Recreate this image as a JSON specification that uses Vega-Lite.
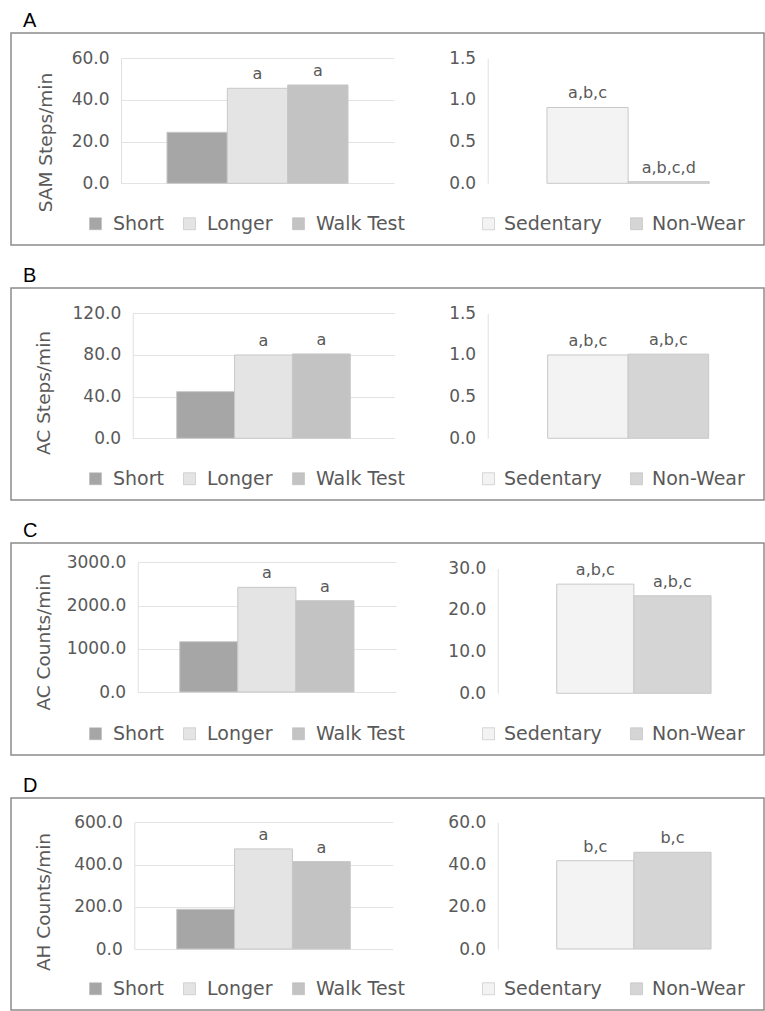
{
  "$schema": "https://vega.github.io/schema/vega-lite/v6.json",
  "padding": {"left": 10, "top": 10, "right": 0, "bottom": 0},
  "spacing": 19,
  "config": {
    "font": "DejaVu Sans",
    "view": {"stroke": "#8c8c8c", "strokeWidth": 1.5},
    "axis": {
      "labelFont": "DejaVu Sans", "labelFontSize": 17, "labelColor": "#595959", "labelPadding": 12,
      "titleFont": "DejaVu Sans", "titleFontSize": 18.5, "titleFontWeight": "normal", "titleColor": "#595959",
      "titleBaseline": "middle",
      "gridColor": "#e3e3e3", "gridWidth": 1, "domainColor": "#e0e0e0", "domainWidth": 1,
      "ticks": false, "tickSize": 0
    },
    "legend": {"labelFont": "DejaVu Sans", "labelFontSize": 19, "labelColor": "#595959", "symbolType": "square", "symbolSize": 144, "symbolStrokeWidth": 0.5, "symbolStrokeColor": "#b5b5b5"},
    "title": {"font": "Liberation Sans", "fontSize": 20, "fontWeight": "normal", "anchor": "start", "frame": "group", "dx": 12, "offset": 2, "baseline": "alphabetic", "color": "#000000"},
    "text": {"font": "DejaVu Sans"}
  },
  "datasets": {
    "bars": [
      {"panel": "A", "side": "L", "cat": "Short", "value": 24.5, "label": ""},
      {"panel": "A", "side": "L", "cat": "Longer", "value": 45.6, "label": "a"},
      {"panel": "A", "side": "L", "cat": "Walk Test", "value": 47.2, "label": "a"},
      {"panel": "A", "side": "R", "cat": "Sedentary", "value": 0.91, "label": "a,b,c"},
      {"panel": "A", "side": "R", "cat": "Non-Wear", "value": 0.02, "label": "a,b,c,d"},
      {"panel": "B", "side": "L", "cat": "Short", "value": 44.8, "label": ""},
      {"panel": "B", "side": "L", "cat": "Longer", "value": 80.0, "label": "a"},
      {"panel": "B", "side": "L", "cat": "Walk Test", "value": 81.0, "label": "a"},
      {"panel": "B", "side": "R", "cat": "Sedentary", "value": 1.0, "label": "a,b,c"},
      {"panel": "B", "side": "R", "cat": "Non-Wear", "value": 1.01, "label": "a,b,c"},
      {"panel": "C", "side": "L", "cat": "Short", "value": 1163, "label": ""},
      {"panel": "C", "side": "L", "cat": "Longer", "value": 2421, "label": "a"},
      {"panel": "C", "side": "L", "cat": "Walk Test", "value": 2112, "label": "a"},
      {"panel": "C", "side": "R", "cat": "Sedentary", "value": 26.2, "label": "a,b,c"},
      {"panel": "C", "side": "R", "cat": "Non-Wear", "value": 23.4, "label": "a,b,c"},
      {"panel": "D", "side": "L", "cat": "Short", "value": 188, "label": ""},
      {"panel": "D", "side": "L", "cat": "Longer", "value": 474, "label": "a"},
      {"panel": "D", "side": "L", "cat": "Walk Test", "value": 414, "label": "a"},
      {"panel": "D", "side": "R", "cat": "Sedentary", "value": 41.8, "label": "b,c"},
      {"panel": "D", "side": "R", "cat": "Non-Wear", "value": 45.8, "label": "b,c"}
    ]
  },
  "data": {"name": "bars"},
  "vconcat": [
    {
      "title": {"text": "A"},
      "width": 753, "height": 212,
      "resolve": {"scale": {"x": "independent", "y": "independent", "color": "independent"}},
      "layer": [
        {
          "transform": [{"filter": "datum.panel === 'A' && datum.side === 'L'"}],
          "encoding": {
            "x": {"field": "cat", "type": "nominal", "sort": ["Short", "Longer", "Walk Test"], "scale": {"range": [110, 383], "paddingInner": 0, "paddingOuter": 0.762}, "axis": null},
            "y": {"field": "value", "type": "quantitative", "scale": {"domain": [0, 60], "range": [150.3, 25.3], "nice": false}, "axis": {"orient": "left", "offset": -110, "values": [0, 20, 40, 60], "format": ".1f", "title": "SAM Steps/min", "titleX": -76, "titleY": 109}}
          },
          "layer": [
            {"mark": {"type": "bar", "stroke": "#c8c8c8", "strokeWidth": 1},
             "encoding": {"color": {"field": "cat", "type": "nominal", "scale": {"domain": ["Short", "Longer", "Walk Test"], "range": ["#a6a6a6", "#e4e4e4", "#c3c3c3"]}, "legend": {"orient": "none", "legendX": 75, "legendY": 181, "direction": "horizontal", "title": null, "labelOffset": 8, "columnPadding": 16}}}},
            {"mark": {"type": "text", "dy": -14, "baseline": "middle", "fontSize": 16, "color": "#595959"},
             "encoding": {"text": {"field": "label"}}}
          ]
        },
        {
          "transform": [{"filter": "datum.panel === 'A' && datum.side === 'R'"}],
          "encoding": {
            "x": {"field": "cat", "type": "nominal", "sort": ["Sedentary", "Non-Wear"], "scale": {"range": [476.7, 753], "paddingInner": 0, "paddingOuter": 0.702, "align": 0.52}, "axis": null},
            "y": {"field": "value", "type": "quantitative", "scale": {"domain": [0, 1.5], "range": [150.3, 25.3], "nice": false}, "axis": {"orient": "left", "offset": -476.7, "values": [0, 0.5, 1, 1.5], "format": ".1f", "title": null}}
          },
          "layer": [
            {"mark": {"type": "bar", "stroke": "#c8c8c8", "strokeWidth": 1},
             "encoding": {"color": {"field": "cat", "type": "nominal", "scale": {"domain": ["Sedentary", "Non-Wear"], "range": ["#f3f3f3", "#d5d5d5"]}, "legend": {"orient": "none", "legendX": 468, "legendY": 181, "direction": "horizontal", "title": null, "labelOffset": 6, "columnPadding": 25}}}},
            {"mark": {"type": "text", "dy": -14, "baseline": "middle", "fontSize": 16, "color": "#595959"},
             "encoding": {"text": {"field": "label"}}}
          ]
        }
      ]
    },
    {
      "title": {"text": "B"},
      "width": 753, "height": 212,
      "resolve": {"scale": {"x": "independent", "y": "independent", "color": "independent"}},
      "layer": [
        {
          "transform": [{"filter": "datum.panel === 'B' && datum.side === 'L'"}],
          "encoding": {
            "x": {"field": "cat", "type": "nominal", "sort": ["Short", "Longer", "Walk Test"], "scale": {"range": [121.7, 383.3], "paddingInner": 0, "paddingOuter": 0.76}, "axis": null},
            "y": {"field": "value", "type": "quantitative", "scale": {"domain": [0, 120], "range": [150.3, 25.3], "nice": false}, "axis": {"orient": "left", "offset": -121.7, "values": [0, 40, 80, 120], "format": ".1f", "title": "AC Steps/min", "titleX": -89.2, "titleY": 104.5}}
          },
          "layer": [
            {"mark": {"type": "bar", "stroke": "#c8c8c8", "strokeWidth": 1},
             "encoding": {"color": {"field": "cat", "type": "nominal", "scale": {"domain": ["Short", "Longer", "Walk Test"], "range": ["#a6a6a6", "#e4e4e4", "#c3c3c3"]}, "legend": {"orient": "none", "legendX": 75, "legendY": 181, "direction": "horizontal", "title": null, "labelOffset": 8, "columnPadding": 16}}}},
            {"mark": {"type": "text", "dy": -14, "baseline": "middle", "fontSize": 16, "color": "#595959"},
             "encoding": {"text": {"field": "label"}}}
          ]
        },
        {
          "transform": [{"filter": "datum.panel === 'B' && datum.side === 'R'"}],
          "encoding": {
            "x": {"field": "cat", "type": "nominal", "sort": ["Sedentary", "Non-Wear"], "scale": {"range": [476.7, 753], "paddingInner": 0, "paddingOuter": 0.716, "align": 0.52}, "axis": null},
            "y": {"field": "value", "type": "quantitative", "scale": {"domain": [0, 1.5], "range": [150.3, 25.3], "nice": false}, "axis": {"orient": "left", "offset": -476.7, "values": [0, 0.5, 1, 1.5], "format": ".1f", "title": null}}
          },
          "layer": [
            {"mark": {"type": "bar", "stroke": "#c8c8c8", "strokeWidth": 1},
             "encoding": {"color": {"field": "cat", "type": "nominal", "scale": {"domain": ["Sedentary", "Non-Wear"], "range": ["#f3f3f3", "#d5d5d5"]}, "legend": {"orient": "none", "legendX": 468, "legendY": 181, "direction": "horizontal", "title": null, "labelOffset": 6, "columnPadding": 25}}}},
            {"mark": {"type": "text", "dy": -14, "baseline": "middle", "fontSize": 16, "color": "#595959"},
             "encoding": {"text": {"field": "label"}}}
          ]
        }
      ]
    },
    {
      "title": {"text": "C"},
      "width": 753, "height": 212,
      "resolve": {"scale": {"x": "independent", "y": "independent", "color": "independent"}},
      "layer": [
        {
          "transform": [{"filter": "datum.panel === 'C' && datum.side === 'L'"}],
          "encoding": {
            "x": {"field": "cat", "type": "nominal", "sort": ["Short", "Longer", "Walk Test"], "scale": {"range": [126.7, 385], "paddingInner": 0, "paddingOuter": 0.723}, "axis": null},
            "y": {"field": "value", "type": "quantitative", "scale": {"domain": [0, 3000], "range": [149, 19.3], "nice": false}, "axis": {"orient": "left", "offset": -126.7, "values": [0, 1000, 2000, 3000], "format": ".1f", "title": "AC Counts/min", "titleX": -94.2, "titleY": 98.7}}
          },
          "layer": [
            {"mark": {"type": "bar", "stroke": "#c8c8c8", "strokeWidth": 1},
             "encoding": {"color": {"field": "cat", "type": "nominal", "scale": {"domain": ["Short", "Longer", "Walk Test"], "range": ["#a6a6a6", "#e4e4e4", "#c3c3c3"]}, "legend": {"orient": "none", "legendX": 75, "legendY": 181, "direction": "horizontal", "title": null, "labelOffset": 8, "columnPadding": 16}}}},
            {"mark": {"type": "text", "dy": -14, "baseline": "middle", "fontSize": 16, "color": "#595959"},
             "encoding": {"text": {"field": "label"}}}
          ]
        },
        {
          "transform": [{"filter": "datum.panel === 'C' && datum.side === 'R'"}],
          "encoding": {
            "x": {"field": "cat", "type": "nominal", "sort": ["Sedentary", "Non-Wear"], "scale": {"range": [486.7, 753], "paddingInner": 0, "paddingOuter": 0.726, "align": 0.527}, "axis": null},
            "y": {"field": "value", "type": "quantitative", "scale": {"domain": [0, 30], "range": [150.3, 25.3], "nice": false}, "axis": {"orient": "left", "offset": -486.7, "values": [0, 10, 20, 30], "format": ".1f", "title": null}}
          },
          "layer": [
            {"mark": {"type": "bar", "stroke": "#c8c8c8", "strokeWidth": 1},
             "encoding": {"color": {"field": "cat", "type": "nominal", "scale": {"domain": ["Sedentary", "Non-Wear"], "range": ["#f3f3f3", "#d5d5d5"]}, "legend": {"orient": "none", "legendX": 468, "legendY": 181, "direction": "horizontal", "title": null, "labelOffset": 6, "columnPadding": 25}}}},
            {"mark": {"type": "text", "dy": -14, "baseline": "middle", "fontSize": 16, "color": "#595959"},
             "encoding": {"text": {"field": "label"}}}
          ]
        }
      ]
    },
    {
      "title": {"text": "D"},
      "width": 753, "height": 212,
      "resolve": {"scale": {"x": "independent", "y": "independent", "color": "independent"}},
      "layer": [
        {
          "transform": [{"filter": "datum.panel === 'D' && datum.side === 'L'"}],
          "encoding": {
            "x": {"field": "cat", "type": "nominal", "sort": ["Short", "Longer", "Walk Test"], "scale": {"range": [123.3, 381.7], "paddingInner": 0, "paddingOuter": 0.733}, "axis": null},
            "y": {"field": "value", "type": "quantitative", "scale": {"domain": [0, 600], "range": [151, 24.3], "nice": false}, "axis": {"orient": "left", "offset": -123.3, "values": [0, 200, 400, 600], "format": ".1f", "title": "AH Counts/min", "titleX": -90.8, "titleY": 103.5}}
          },
          "layer": [
            {"mark": {"type": "bar", "stroke": "#c8c8c8", "strokeWidth": 1},
             "encoding": {"color": {"field": "cat", "type": "nominal", "scale": {"domain": ["Short", "Longer", "Walk Test"], "range": ["#a6a6a6", "#e4e4e4", "#c3c3c3"]}, "legend": {"orient": "none", "legendX": 75, "legendY": 181, "direction": "horizontal", "title": null, "labelOffset": 8, "columnPadding": 16}}}},
            {"mark": {"type": "text", "dy": -14, "baseline": "middle", "fontSize": 16, "color": "#595959"},
             "encoding": {"text": {"field": "label"}}}
          ]
        },
        {
          "transform": [{"filter": "datum.panel === 'D' && datum.side === 'R'"}],
          "encoding": {
            "x": {"field": "cat", "type": "nominal", "sort": ["Sedentary", "Non-Wear"], "scale": {"range": [486.7, 753], "paddingInner": 0, "paddingOuter": 0.726, "align": 0.527}, "axis": null},
            "y": {"field": "value", "type": "quantitative", "scale": {"domain": [0, 60], "range": [151, 24.3], "nice": false}, "axis": {"orient": "left", "offset": -486.7, "values": [0, 20, 40, 60], "format": ".1f", "title": null}}
          },
          "layer": [
            {"mark": {"type": "bar", "stroke": "#c8c8c8", "strokeWidth": 1},
             "encoding": {"color": {"field": "cat", "type": "nominal", "scale": {"domain": ["Sedentary", "Non-Wear"], "range": ["#f3f3f3", "#d5d5d5"]}, "legend": {"orient": "none", "legendX": 468, "legendY": 181, "direction": "horizontal", "title": null, "labelOffset": 6, "columnPadding": 25}}}},
            {"mark": {"type": "text", "dy": -14, "baseline": "middle", "fontSize": 16, "color": "#595959"},
             "encoding": {"text": {"field": "label"}}}
          ]
        }
      ]
    }
  ]
}
